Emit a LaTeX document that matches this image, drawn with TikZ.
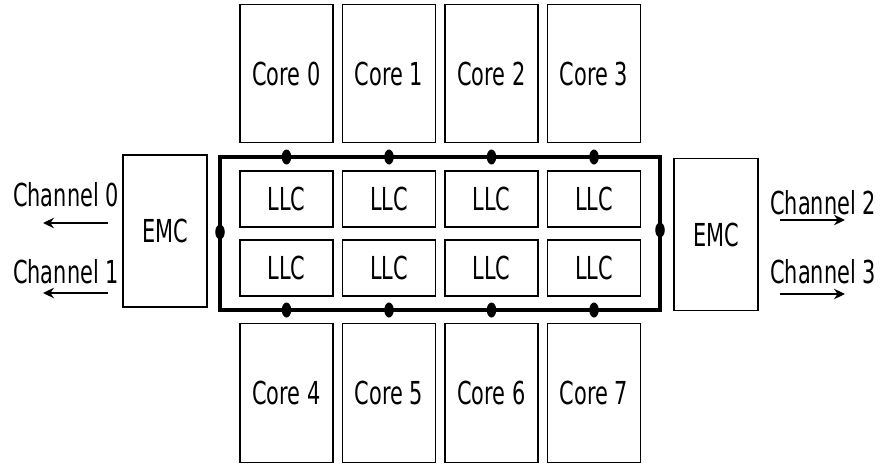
\documentclass[tikz,border=0pt]{standalone}
\usepackage{fontspec}
\setmainfont{DejaVu Sans}[FakeStretch=0.66]
\usetikzlibrary{shapes.geometric,arrows.meta,positioning}

\begin{document}
\begin{tikzpicture}[
  box/.style={draw,line width=0.8pt,minimum width=1.86cm,inner sep=0pt,
              align=center,font=\fontsize{18}{20}\selectfont},
  core/.style={box,minimum height=2.77cm},
  llc/.style={box,minimum height=1.12cm},
  emc/.style={box,minimum width=1.68cm,minimum height=3.04cm},
  lbl/.style={inner sep=0pt,font=\fontsize{18}{20}\selectfont},
  ring/.style={draw,line width=2.8pt},
  dot/.style={ellipse,fill=black,inner sep=0pt,minimum width=0.19cm,minimum height=0.30cm},
  arr/.style={-{Stealth[length=0.22cm,width=0.21cm]},line width=0.8pt}
]
\useasboundingbox (0,0) rectangle (17.62,9.26);

% cores
\node[core] (c0) at (5.73,7.79) {Core 0};
\node[core] (c1) at (7.78,7.79) {Core 1};
\node[core] (c2) at (9.83,7.79) {Core 2};
\node[core] (c3) at (11.88,7.79) {Core 3};
\node[core] (c4) at (5.73,1.40) {Core 4};
\node[core] (c5) at (7.78,1.40) {Core 5};
\node[core] (c6) at (9.83,1.40) {Core 6};
\node[core] (c7) at (11.88,1.40) {Core 7};

% last level cache slices
\node[llc] (l0) at (5.73,5.28) {LLC};
\node[llc] (l1) at (7.78,5.28) {LLC};
\node[llc] (l2) at (9.83,5.28) {LLC};
\node[llc] (l3) at (11.88,5.28) {LLC};
\node[llc] (l4) at (5.73,3.90) {LLC};
\node[llc] (l5) at (7.78,3.90) {LLC};
\node[llc] (l6) at (9.83,3.90) {LLC};
\node[llc] (l7) at (11.88,3.90) {LLC};

% ring
\coordinate (rsw) at (4.40,3.06);
\coordinate (rne) at (13.20,6.12);
\draw[ring] (rsw) rectangle (rne);

% memory controllers
\node[emc] (emcl) at (3.30,4.64) {EMC};
\node[emc] (emcr) at (14.32,4.57) {EMC};

% ring stops
\node[dot] (d0) at (c0.south |- rne) {};
\node[dot] (d1) at (c1.south |- rne) {};
\node[dot] (d2) at (c2.south |- rne) {};
\node[dot] (d3) at (c3.south |- rne) {};
\node[dot] (d4) at (c4.north |- rsw) {};
\node[dot] (d5) at (c5.north |- rsw) {};
\node[dot] (d6) at (c6.north |- rsw) {};
\node[dot] (d7) at (c7.north |- rsw) {};
\node[dot] (dl) at (4.40,4.62) {};
\node[dot] (dr) at (13.20,4.66) {};

% channels
\node[lbl] (ch0) at (1.32,5.36) {Channel 0};
\node[lbl] (ch1) at (1.32,3.82) {Channel 1};
\node[lbl] (ch2) at (16.46,5.20) {Channel 2};
\node[lbl] (ch3) at (16.46,3.82) {Channel 3};
\coordinate (a0s) at (2.16,4.80);
\coordinate (a0e) at (0.86,4.80);
\coordinate (a1s) at (2.16,3.40);
\coordinate (a1e) at (0.86,3.40);
\coordinate (a2s) at (15.60,4.86);
\coordinate (a2e) at (16.90,4.86);
\coordinate (a3s) at (15.60,3.38);
\coordinate (a3e) at (16.90,3.38);
\draw[arr] (a0s) -- (a0e);
\draw[arr] (a1s) -- (a1e);
\draw[arr] (a2s) -- (a2e);
\draw[arr] (a3s) -- (a3e);
\end{tikzpicture}
\end{document}
